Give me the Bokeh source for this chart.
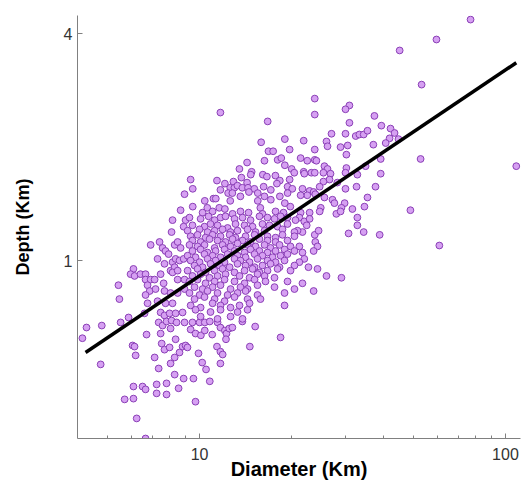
from bokeh.plotting import figure
from bokeh.models import Range1d, FixedTicker, PrintfTickFormatter
from bokeh.embed import file_html
from bokeh.resources import INLINE

# ---- data (Diameter km, Depth km) ----
outlier_diameter = [76.9, 59.5, 45.1, 53.2, 108.5, 52.8, 48.9, 60.8]
outlier_depth = [4.36, 3.86, 3.61, 2.93, 1.78, 1.86, 1.36, 1.096]

right_diameter = [30.9, 30.0, 30.9, 37.3, 39.3, 42.1, 43.4, 32.4, 33.3, 34.4,
                  35.4, 41.8, 40.6, 37.0, 44.7, 39.1, 34.9, 32.8, 39.1, 32.6,
                  37.6, 35.4, 34.6, 31.6, 32.8, 32.8, 34.4, 38.8]
right_depth = [2.58, 2.52, 2.32, 2.42, 2.28, 2.24, 2.18, 2.14, 2.16, 2.16,
               2.21, 2.11, 2.05, 2.03, 2.10, 1.86, 1.78, 1.69, 1.70, 1.57,
               1.57, 1.47, 1.39, 1.37, 1.30, 1.24, 1.19, 1.17]

upper_diameter = [23.8, 23.8, 27.0, 30.0, 21.9, 26.0, 26.2, 28.9, 30.5, 23.8,
                  30.2, 21.4, 22.5, 23.8, 24.1, 25.6, 26.2, 21.9, 22.0, 23.2,
                  23.8, 25.4, 26.8, 30.2, 30.0, 26.6, 25.4, 28.2, 24.7, 21.7,
                  22.9, 23.6, 23.9, 30.0, 22.5, 21.4, 25.6, 27.2, 27.6, 29.8,
                  29.1, 24.9]
upper_depth = [2.69, 2.44, 2.17, 2.17, 2.08, 2.07, 2.01, 2.00, 2.02, 1.97,
               1.91, 1.87, 1.84, 1.85, 1.84, 1.78, 1.75, 1.72, 1.70, 1.71,
               1.71, 1.71, 1.70, 1.76, 1.71, 1.64, 1.62, 1.61, 1.57, 1.55,
               1.53, 1.52, 1.50, 1.55, 1.49, 1.49, 1.47, 1.45, 1.42, 1.42,
               1.38, 1.38]

midright_diameter = [21.4, 22.9, 24.7, 28.0, 28.9, 30.7, 21.2, 22.0, 22.4, 22.9,
                     21.7, 20.9, 23.8, 24.5, 23.9, 24.3, 23.6, 21.2, 21.7, 22.0,
                     21.2, 22.7, 24.3, 26.0, 29.1, 21.7, 23.6]
midright_depth = [1.34, 1.34, 1.35, 1.33, 1.35, 1.18, 1.30, 1.27, 1.24, 1.29,
                  1.19, 1.20, 1.17, 1.20, 1.12, 1.09, 1.06, 1.09, 1.05, 1.01,
                  0.99, 0.96, 0.95, 0.91, 0.90, 0.87, 0.83]

top_diameter = [11.7, 16.7, 15.9, 19.0, 16.8, 17.4, 19.7, 16.3, 18.0, 18.5,
                14.3, 13.5, 14.8, 14.7, 19.0, 20.0, 20.4, 9.35, 11.4, 12.1,
                12.9, 13.7, 14.3, 16.1, 16.6, 17.7, 18.3, 19.7, 9.5, 11.7,
                12.6, 13.0, 13.3, 13.8, 14.4, 15.1, 16.2, 17.1, 17.9, 19.4,
                20.1, 12.4, 12.8, 13.6, 14.5, 15.5, 16.3, 17.1, 18.3, 19.4,
                10.4, 11.1, 11.3, 12.6, 15.5, 15.8, 19.0, 19.8, 9.5, 10.6,
                11.6, 12.1]
top_depth = [2.47, 2.34, 2.06, 2.10, 1.95, 1.95, 1.97, 1.84, 1.85, 1.87,
             1.82, 1.75, 1.72, 1.69, 1.79, 1.75, 1.71, 1.64, 1.63, 1.60,
             1.62, 1.66, 1.61, 1.69, 1.67, 1.68, 1.63, 1.64, 1.55, 1.54,
             1.56, 1.56, 1.58, 1.56, 1.56, 1.55, 1.57, 1.54, 1.60, 1.57,
             1.55, 1.51, 1.51, 1.48, 1.52, 1.51, 1.48, 1.45, 1.48, 1.51,
             1.44, 1.46, 1.46, 1.44, 1.44, 1.38, 1.42, 1.39, 1.39, 1.38,
             1.38, 1.37]

left_diameter = [8.93, 8.67, 8.16, 8.87, 9.0, 8.1, 6.92, 7.4, 7.57, 7.74,
                 7.92, 8.29, 8.48, 8.67, 7.29, 7.68, 8.16, 8.35, 8.6, 8.87,
                 8.04, 8.29, 6.08, 5.95, 6.13, 6.41, 6.66, 7.46, 8.16, 8.48,
                 5.43, 5.47, 6.66, 6.92, 7.13, 6.76, 6.87, 7.18, 6.66, 7.63,
                 7.68, 8.48, 8.04, 8.48, 8.93, 7.29, 7.74, 8.16, 6.76, 8.93]
left_depth = [1.50, 1.36, 1.28, 1.23, 1.28, 1.19, 1.10, 1.12, 1.08, 1.06,
              1.04, 1.10, 1.12, 1.08, 1.01, 0.98, 0.99, 1.01, 1.0, 1.01,
              0.94, 0.96, 0.95, 0.92, 0.91, 0.92, 0.92, 0.92, 0.93, 0.94,
              0.86, 0.79, 0.89, 0.89, 0.89, 0.86, 0.83, 0.84, 0.81, 0.87,
              0.83, 0.89, 0.82, 0.82, 0.84, 0.78, 0.77, 0.77, 0.77, 0.89]

lowleft_diameter = [4.27, 4.14, 4.79, 5.52, 5.86, 6.61, 7.46, 7.68, 7.98, 8.35,
                    8.80, 7.35, 7.57, 7.80, 8.10, 8.41, 8.93, 8.04, 7.46, 6.71,
                    6.04, 6.13, 4.75, 6.18, 7.13, 7.52, 7.68, 7.98, 8.35, 8.60,
                    8.80, 9.00, 8.29, 8.04, 7.35, 8.29, 8.87, 6.08, 6.51, 6.66,
                    7.24, 7.80, 7.24, 7.80, 8.54, 5.69, 6.08, 6.23, 6.66]
lowleft_depth = [0.664, 0.622, 0.672, 0.685, 0.706, 0.724, 0.728, 0.715, 0.724, 0.724,
                 0.728, 0.685, 0.672, 0.689, 0.693, 0.685, 0.685, 0.660, 0.640, 0.636,
                 0.595, 0.591, 0.530, 0.560, 0.553, 0.602, 0.580, 0.588, 0.618, 0.570,
                 0.591, 0.595, 0.553, 0.533, 0.517, 0.498, 0.486, 0.463, 0.463, 0.455,
                 0.469, 0.472, 0.444, 0.441, 0.458, 0.428, 0.430, 0.381, 0.337]

lowmid_diameter = [9.48, 10.0, 10.4, 10.8, 11.45, 9.35, 9.70, 10.1, 10.4, 11.0,
                   11.7, 12.1, 12.25, 12.5, 12.8, 12.2, 13.8, 15.2, 18.4, 14.6,
                   11.4, 11.7, 11.9, 9.13, 9.92, 10.2, 10.5, 11.7, 9.55, 10.8,
                   9.70]
lowmid_depth = [0.685, 0.685, 0.685, 0.689, 0.685, 0.656, 0.640, 0.633, 0.652, 0.636,
                0.664, 0.652, 0.640, 0.660, 0.664, 0.618, 0.689, 0.668, 0.625, 0.591,
                0.591, 0.573, 0.563, 0.588, 0.567, 0.536, 0.514, 0.533, 0.486, 0.478,
                0.422]

core_diameter = [
    10.23, 11.03, 12.82, 13.61, 14.46, 16.06, 17.72, 18.81,
    9.27, 10.08, 10.70, 11.2, 11.71, 12.16, 13.01, 13.82, 14.68, 15.7, 16.68, 17.58, 18.40, 19.39, 20.59,
    9.48, 10.38, 10.86, 11.45, 12.35, 13.11, 14.03, 14.9, 16.06, 16.93, 17.99, 19.39,
    9.14, 10.0, 10.62, 11.2, 11.89, 12.63, 13.31, 14.35, 15.24, 16.31, 18.67, 20.43,
    9.35, 9.85, 10.46, 11.03, 11.71, 12.54, 13.11, 14.14, 15.13, 16.68, 17.72, 18.67, 20.43,
    9.48, 10.08, 10.78, 11.45, 12.16, 12.82, 13.82, 14.68, 15.7, 16.68, 17.72, 19.39,
    9.27, 9.85, 10.38, 11.2, 11.89, 12.63, 13.31, 14.35, 15.24, 16.31, 17.06, 18.26, 19.83,
    9.48, 10.08, 10.62, 11.28, 12.07, 13.01, 14.03, 14.68, 15.7, 16.68, 17.72, 18.96, 20.43,
    9.14, 9.70, 10.38, 11.03, 11.71, 12.35, 13.31, 14.14, 15.13, 16.06, 17.32, 18.40, 19.39,
    9.35, 10.0, 10.62, 11.28, 12.07, 13.01, 13.61, 14.57, 15.47, 16.68, 17.72, 18.96,
    9.63, 10.23, 10.86, 11.62, 12.54, 13.31, 14.14, 15.13, 16.06, 17.06, 18.26, 20.43,
    9.14, 9.85, 10.46, 11.2, 11.89, 13.01, 14.03, 14.9, 15.7, 16.68, 17.99, 19.83,
    9.48, 10.08, 10.78, 11.45, 12.16, 13.51, 14.57, 15.47, 16.31, 17.58,
    9.27, 9.85, 10.46, 11.2, 12.07, 13.01, 14.03, 15.13, 16.43, 19.39,
    9.63, 10.23, 11.03, 11.71, 12.63, 13.61, 14.35, 15.47, 17.58, 20.43,
    9.27, 10.0, 10.62, 11.45, 12.35, 13.31, 14.14, 15.47, 18.96,
    9.63, 10.38, 11.2, 12.07, 13.01, 14.35, 15.82,
    9.35, 10.08, 11.03, 11.71, 12.63, 13.51, 14.57, 18.96,
    9.70, 10.86, 11.71, 13.31, 14.35,
    10.08, 11.45, 12.63, 13.82,
]
core_depth = [
    1.34, 1.35, 1.33, 1.35, 1.34, 1.33, 1.35, 1.34,
    1.30, 1.29, 1.31, 1.28, 1.30, 1.31, 1.29, 1.30, 1.28, 1.31, 1.30, 1.29, 1.31, 1.30, 1.28,
    1.24, 1.23, 1.25, 1.24, 1.22, 1.25, 1.24, 1.23, 1.25, 1.24, 1.23, 1.25,
    1.20, 1.21, 1.19, 1.20, 1.21, 1.19, 1.20, 1.21, 1.19, 1.20, 1.21, 1.19,
    1.16, 1.17, 1.15, 1.17, 1.16, 1.17, 1.15, 1.16, 1.17, 1.16, 1.15, 1.17, 1.16,
    1.13, 1.12, 1.14, 1.13, 1.12, 1.14, 1.13, 1.12, 1.14, 1.13, 1.12, 1.13,
    1.10, 1.09, 1.10, 1.08, 1.10, 1.09, 1.11, 1.10, 1.09, 1.10, 1.08, 1.10, 1.09,
    1.06, 1.07, 1.05, 1.06, 1.07, 1.06, 1.05, 1.07, 1.06, 1.05, 1.06, 1.07, 1.06,
    1.03, 1.02, 1.04, 1.03, 1.02, 1.04, 1.03, 1.02, 1.04, 1.03, 1.02, 1.03, 1.04,
    1.00, 0.99, 1.01, 1.00, 0.99, 1.01, 1.00, 0.99, 1.01, 1.00, 0.99, 1.00,
    0.97, 0.96, 0.98, 0.97, 0.96, 0.98, 0.97, 0.96, 0.97, 0.98, 0.96, 0.97,
    0.94, 0.95, 0.93, 0.94, 0.95, 0.93, 0.94, 0.95, 0.93, 0.94, 0.95, 0.94,
    0.91, 0.92, 0.90, 0.91, 0.92, 0.91, 0.90, 0.92, 0.91, 0.90,
    0.88, 0.89, 0.87, 0.88, 0.89, 0.88, 0.87, 0.89, 0.88, 0.88,
    0.85, 0.84, 0.85, 0.86, 0.84, 0.85, 0.84, 0.86, 0.85, 0.84,
    0.82, 0.81, 0.83, 0.82, 0.81, 0.82, 0.83, 0.81, 0.82,
    0.79, 0.80, 0.79, 0.78, 0.80, 0.79, 0.79,
    0.76, 0.75, 0.77, 0.76, 0.75, 0.76, 0.77, 0.76,
    0.74, 0.73, 0.74, 0.73, 0.74,
    0.71, 0.70, 0.71, 0.70,
]

# regression line end points
fit_diameter = [4.24, 108.5]
fit_depth = [0.57, 3.35]

x_ticks = [10, 100]
x_minor_ticks = [5, 6, 7, 8, 9, 20, 30, 40, 50, 60, 70, 80, 90]
y_ticks = [1, 4]

diameter = (outlier_diameter + right_diameter + upper_diameter + midright_diameter +
            top_diameter + left_diameter + lowleft_diameter + lowmid_diameter + core_diameter)
depth = (outlier_depth + right_depth + upper_depth + midright_depth +
         top_depth + left_depth + lowleft_depth + lowmid_depth + core_depth)

p = figure(width=521, height=483, x_axis_type="log", y_axis_type="log",
           x_range=Range1d(3.99, 112), y_range=Range1d(0.337, 4.47),
           output_backend="svg", toolbar_location=None,
           min_border_left=77, min_border_right=1, min_border_top=15, min_border_bottom=45)
p.outline_line_color = None
p.grid.visible = False
p.background_fill_color = "white"
p.border_fill_color = "white"

p.scatter(diameter, depth, size=6.8, fill_color="#d6a0f2", line_color="#8a3fb6", line_width=1)
p.line(fit_diameter, fit_depth, line_color="black", line_width=3.5)

font = "Liberation Sans"
for ax in (p.xaxis[0], p.yaxis[0]):
    ax.axis_line_color = "#808080"
    ax.axis_line_width = 1
    ax.major_tick_line_color = "#808080"
    ax.minor_tick_line_color = "#808080"
    ax.major_tick_in = 5
    ax.major_tick_out = 0
    ax.minor_tick_in = 3
    ax.minor_tick_out = 0
    ax.major_label_text_font = font
    ax.major_label_text_font_size = "16px"
    ax.major_label_text_color = "#333333"
    ax.axis_label_text_font = font
    ax.axis_label_text_font_style = "bold"
    ax.axis_label_text_color = "black"
    ax.formatter = PrintfTickFormatter(format="%d")

p.xaxis.ticker = FixedTicker(ticks=x_ticks, minor_ticks=x_minor_ticks)
p.yaxis.ticker = FixedTicker(ticks=y_ticks, minor_ticks=[])
p.yaxis.minor_tick_line_color = None

p.xaxis.axis_label = "Diameter (Km)"
p.xaxis.axis_label_text_font_size = "20px"
p.xaxis.major_label_standoff = 9
p.xaxis.axis_label_standoff = -5

p.yaxis.axis_label = "Depth (Km)"
p.yaxis.axis_label_text_font_size = "18px"
p.yaxis.major_label_standoff = 5
p.yaxis.axis_label_standoff = 28

open("out.html", "w").write(file_html(p, INLINE))
